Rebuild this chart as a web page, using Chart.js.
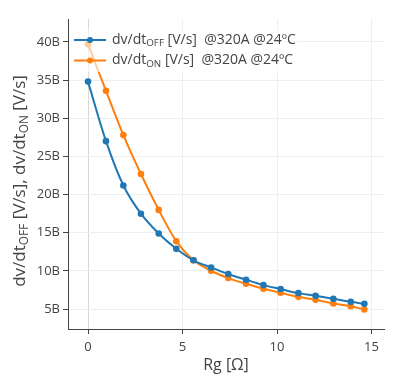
<!DOCTYPE html>
<html>
<head>
<meta charset="utf-8">
<script src="https://cdn.jsdelivr.net/npm/chart.js@4"></script>
<style>
  body { margin: 0; background: #fff; }
  #wrap { width: 399px; height: 379px; }
</style>
</head>
<body>
<div id="wrap"><canvas id="c" width="399" height="379"></canvas></div>
<script>
// Rg sweep, values in billions of V/s
const rgOhm = [0, 0.95, 1.87, 2.8, 3.74, 4.67, 5.58, 6.51, 7.42, 8.36, 9.28, 10.19, 11.13, 12.04, 12.98, 13.9, 14.62];
const dvdtOff = [34.8, 27.0, 21.2, 17.5, 14.9, 12.9, 11.4, 10.46, 9.6, 8.85, 8.15, 7.63, 7.1, 6.75, 6.35, 5.96, 5.7];
const dvdtOn = [39.7, 33.6, 27.8, 22.7, 18.0, 13.9, 11.4, 10.03, 9.07, 8.32, 7.67, 7.14, 6.61, 6.22, 5.74, 5.39, 4.95];
const xTicks = [0, 5, 10, 15];
const yTicks = [5, 10, 15, 20, 25, 30, 35, 40];
const seriesNames = [
    [{ t: 'dv/dt' }, { t: 'OFF', sub: true }, { t: ' [V/s]  @320A @24ºC' }],
    [{ t: 'dv/dt' }, { t: 'ON', sub: true }, { t: ' [V/s]  @320A @24ºC' }]
];
const yTitle = [{ t: 'dv/dt' }, { t: 'OFF', sub: true }, { t: ' [V/s], dv/dt' }, { t: 'ON', sub: true }, { t: ' [V/s]' }];
const xTitle = 'Rg [Ω]';

const BLUE = '#1f77b4';
const ORANGE = '#ff7f0e';
const FONT = "'Open Sans', sans-serif";

function richWidth(ctx, parts, size) {
    let w = 0;
    parts.forEach(p => {
        ctx.font = (p.sub ? size * 0.7 : size) + 'px ' + FONT;
        w += ctx.measureText(p.t).width;
    });
    return w;
}

function drawRich(ctx, parts, x, y, size) {
    ctx.textBaseline = 'middle';
    ctx.textAlign = 'left';
    parts.forEach(p => {
        const s = p.sub ? size * 0.7 : size;
        ctx.font = s + 'px ' + FONT;
        ctx.fillText(p.t, x, p.sub ? y + size * 0.25 : y);
        x += ctx.measureText(p.t).width;
    });
}

const decorations = {
    id: 'decorations',
    afterDraw(chart) {
        const ctx = chart.ctx;
        const area = chart.chartArea;
        ctx.save();
        // legend box
        ctx.fillStyle = 'rgba(255,255,255,0.6)';
        ctx.fillRect(area.left + 2, area.top + 10, 228, 43);
        const colors = [BLUE, ORANGE];
        seriesNames.forEach((parts, i) => {
            const y = area.top + 21 + i * 20.5;
            ctx.strokeStyle = colors[i];
            ctx.lineWidth = 2;
            ctx.beginPath();
            ctx.moveTo(area.left + 6, y);
            ctx.lineTo(area.left + 38, y);
            ctx.stroke();
            ctx.fillStyle = colors[i];
            ctx.beginPath();
            ctx.arc(area.left + 22, y, 3, 0, Math.PI * 2);
            ctx.fill();
            ctx.fillStyle = '#444';
            drawRich(ctx, parts, area.left + 44, y, 14);
        });
        // axis titles
        ctx.fillStyle = '#444';
        ctx.font = '16px ' + FONT;
        ctx.textAlign = 'center';
        ctx.textBaseline = 'middle';
        ctx.fillText(xTitle, (area.left + area.right) / 2, 365);
        ctx.translate(20, 181);
        ctx.rotate(-Math.PI / 2);
        const w = richWidth(ctx, yTitle, 17);
        drawRich(ctx, yTitle, -w / 2, 0, 17);
        ctx.restore();
    }
};

function makeSeries(label, values, color) {
    return {
        label: label,
        data: rgOhm.map((x, i) => ({ x: x, y: values[i] })),
        borderColor: color,
        backgroundColor: color,
        borderWidth: 2,
        pointRadius: 3.3,
        pointBorderWidth: 0,
        pointHoverRadius: 3.3,
        cubicInterpolationMode: 'monotone',
        fill: false
    };
}

new Chart(document.getElementById('c'), {
    type: 'scatter',
    data: {
        datasets: [
            makeSeries('dv/dt OFF', dvdtOff, BLUE),
            makeSeries('dv/dt ON', dvdtOn, ORANGE)
        ]
    },
    options: {
        responsive: false,
        animation: false,
        showLine: true,
        layout: { padding: { left: 0, top: 19, right: 15, bottom: 0 } },
        scales: {
            x: {
                type: 'linear',
                min: -1.06,
                max: 15.66,
                afterBuildTicks: s => { s.ticks = xTicks.map(v => ({ value: v })); },
                afterFit: s => { s.height = 50; },
                border: { display: true, color: '#444', width: 1 },
                grid: {
                    color: c => c.tick && c.tick.value === 0 ? '#d8d8d8' : '#eeeeee',
                    tickColor: '#444',
                    tickLength: 5
                },
                ticks: { color: '#444', font: { family: FONT, size: 13 }, padding: 5 }
            },
            y: {
                min: 2.4,
                max: 43,
                afterBuildTicks: s => { s.ticks = yTicks.map(v => ({ value: v })); },
                afterFit: s => { s.width = 68; },
                border: { display: true, color: '#444', width: 1 },
                grid: { color: '#eeeeee', tickColor: '#444', tickLength: 5 },
                ticks: {
                    color: '#444',
                    font: { family: FONT, size: 13 },
                    padding: 3,
                    callback: v => v + 'B'
                }
            }
        },
        plugins: {
            legend: { display: false },
            tooltip: { enabled: false }
        }
    },
    plugins: [decorations]
});
</script>
</body>
</html>
